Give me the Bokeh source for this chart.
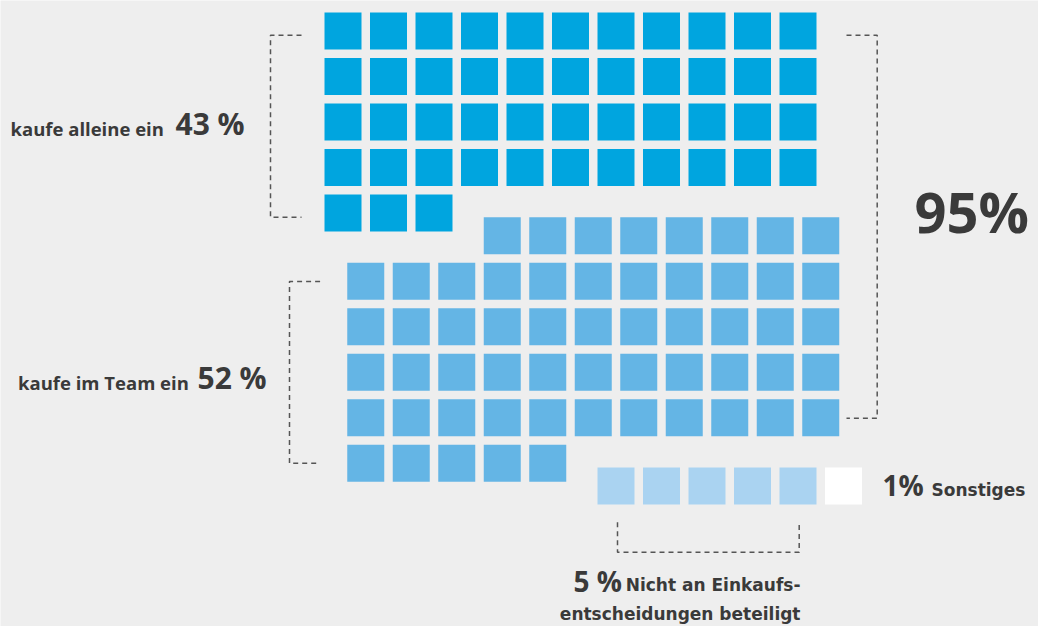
from bokeh.plotting import figure
from bokeh.models import Range1d, ColumnDataSource
from bokeh.core.properties import value
from bokeh.embed import file_html
from bokeh.resources import INLINE

# ---- data ----
groups = ["kaufe alleine ein", "kaufe im Team ein",
          "Nicht an Einkaufs-\nentscheidungen beteiligt", "Sonstiges"]
percents = [43, 52, 5, 1]          # labelled shares
squares = [47, 57, 5, 1]           # number of squares drawn per group
colors = ["#00A5DF", "#64B5E5", "#AAD3F1", "#FFFFFF"]
group_shift = [0.0, 0.5, 1.0, 1.0]  # offset of each group in cells
COLS = 11

# ---- layout constants (pixel-like data units) ----
X0, Y0 = 324.0, 12.0
PITCH = 45.5
SIZE = 37.0
BG = "#EEEEEE"
TXT = "#3A3A3A"
DASH = "#555555"

p = figure(width=1038, height=626, x_range=Range1d(0, 1038), y_range=Range1d(626, 0),
           output_backend="svg", toolbar_location=None, tools="", min_border=0)
p.axis.visible = False
p.grid.visible = False
p.outline_line_color = None
p.background_fill_color = BG
p.border_fill_color = BG

left, right, top, bottom, fill = [], [], [], [], []
k = 0
for g, n in enumerate(squares):
    for _ in range(n):
        row, col = divmod(k, COLS)
        x = X0 + (col + group_shift[g]) * PITCH
        y = Y0 + (row + group_shift[g]) * PITCH
        left.append(x); right.append(x + SIZE)
        top.append(y); bottom.append(y + SIZE)
        fill.append(colors[g])
        k += 1

src = ColumnDataSource(dict(left=left, right=right, top=top, bottom=bottom, fill=fill))
p.quad(left="left", right="right", top="top", bottom="bottom", fill_color="fill",
       line_color=None, source=src)

# ---- dashed brackets ----
brackets = [
    ([301, 270, 270, 301], [34.7, 34.7, 216.7, 216.7]),
    ([846, 876.7, 876.7, 846], [34.7, 34.7, 417.7, 417.7]),
    ([319.6, 289, 289, 319.6], [281, 281, 462.7, 462.7]),
    ([617, 617, 798.7, 798.7], [521.7, 551.7, 551.7, 521.7]),
]
p.multi_line(xs=[b[0] for b in brackets], ys=[b[1] for b in brackets],
             line_color=DASH, line_width=1.5, line_dash="5 4")

OS = value("Open Sans")
DJ = value("DejaVu Sans")

def txt(x, y, s, size, font=OS, align="left"):
    # y is the wanted baseline; the svg backend draws the text ~0.4em lower
    p.text(x=[x], y=[y - 0.4 * size], text=[s], text_font=font, text_font_style="bold",
           text_font_size=f"{size}px", text_color=TXT, text_align=align,
           text_baseline="alphabetic")

txt(10, 135, groups[0], 18.5)
txt(175, 135, f"{percents[0]} %", 30)
txt(17.5, 389, groups[1], 18.5)
txt(197, 389, f"{percents[1]} %", 30)
txt(914, 232.7, f"{percents[0] + percents[1]}%", 56)
txt(882, 496, f"{percents[3]}%", 28)
txt(931, 496, groups[3], 17, font=DJ)
line1, line2 = groups[2].split("\n")
txt(573, 591.5, f"{percents[2]} %", 28)
txt(800, 591.5, line1, 17, font=DJ, align="right")
txt(800, 620.5, line2, 17, font=DJ, align="right")

open("out.html", "w").write(file_html(p, INLINE))
